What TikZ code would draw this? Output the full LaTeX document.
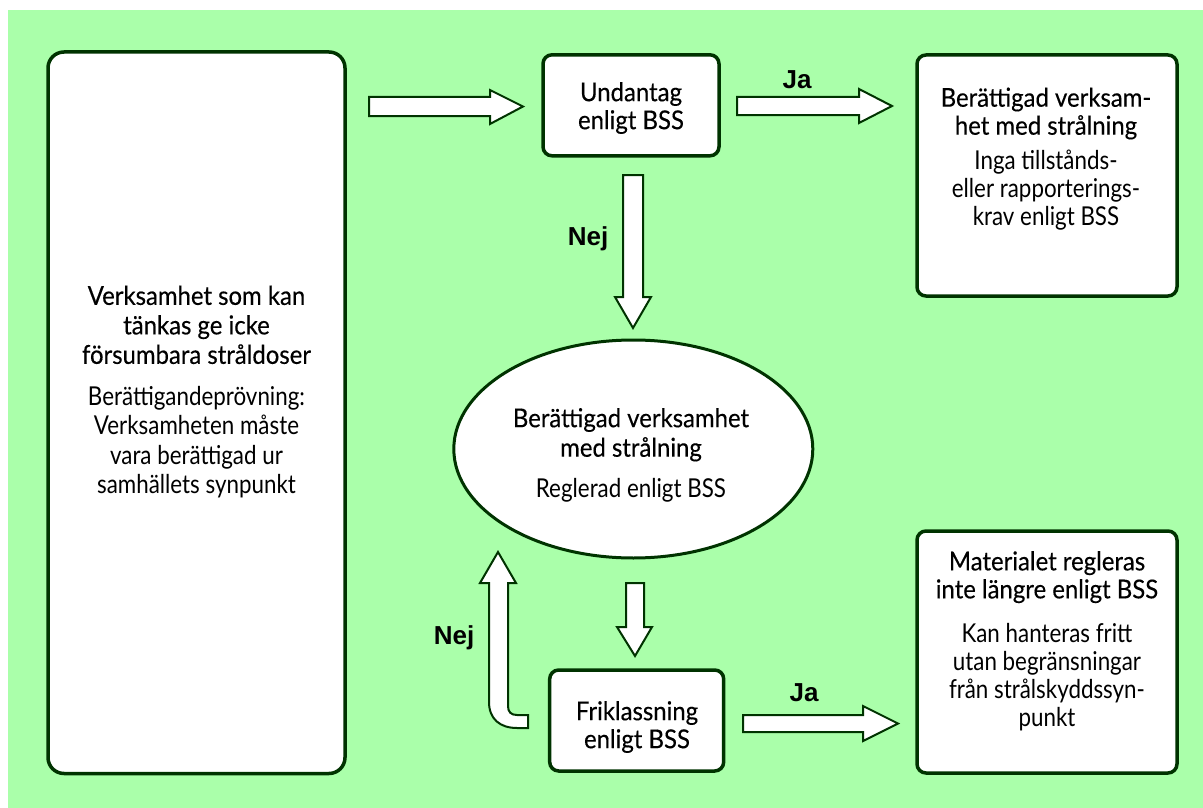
\documentclass[tikz,border=0pt]{standalone}
\usepackage{fontspec}
\setmainfont{Lato}
\newfontfamily\headfont[FakeStretch=0.92,FakeBold=0.3]{Lato}
\newfontfamily\bodyfont[FakeStretch=0.86]{Lato}
\newfontfamily\labfont{Liberation Sans}
\usetikzlibrary{shapes.geometric}
\definecolor{bggreen}{RGB}{170,255,170}
\definecolor{edge}{RGB}{0,51,0}
\tikzset{
  box/.style={draw=edge, line width=3.5pt, fill=white, inner sep=0pt},
  oval/.style={ellipse, draw=edge, line width=3pt, fill=white, inner sep=0pt},
  txt/.style={align=center, inner sep=0pt, font=\headfont\fontsize{26}{28}\selectfont},
  txtwide/.style={align=center, inner sep=0pt, font=\headfont\fontsize{26}{29.5}\selectfont},
  lab/.style={inner sep=0pt, font=\labfont\bfseries\fontsize{26}{28}\selectfont},
  barrow/.style={draw=edge, line width=2pt, fill=white, line join=miter}
}
\begin{document}
\begin{tikzpicture}[x=1pt,y=-1pt]
\useasboundingbox (0,0) rectangle (1203,808);
\fill[bggreen] (8,10) rectangle (1203,808);

% boxes
\node[box, rounded corners=16pt, minimum width=297pt, minimum height=721.5pt] (left) at (196.5,412.75) {};
\node[box, rounded corners=9pt, minimum width=176pt, minimum height=101pt] (und) at (631,105.3) {};
\node[box, rounded corners=9pt, minimum width=260pt, minimum height=241pt] (tr) at (1047,175.5) {};
\node[box, rounded corners=9pt, minimum width=260pt, minimum height=242pt] (br) at (1047,652) {};
\node[box, rounded corners=9pt, minimum width=174pt, minimum height=101pt] (fri) at (636.7,720.5) {};
\node[oval, minimum width=359pt, minimum height=218pt] (ell) at (633.3,449) {};

% texts
\node[txtwide] (leftT) at (196.5,392) {Verksamhet som kan\\ tänkas ge icke\\ försumbara stråldoser\\[12pt]
  \bodyfont Berättigandeprövning:\\ \bodyfont Verksamheten måste\\ \bodyfont vara berättigad ur\\ \bodyfont samhällets synpunkt};
\node[txt] (undT) at (631,108) {Undantag\\ enligt BSS};
\node[txt] (trT) at (1046,159) {Berättigad verksam-\\ het med strålning\\[7pt]
  \bodyfont Inga tillstånds-\\ \bodyfont eller rapporterings-\\ \bodyfont krav enligt BSS};
\node[txt] (brT) at (1047,641) {Materialet regleras\\ inte längre enligt BSS\\[16pt]
  \bodyfont Kan hanteras fritt\\ \bodyfont utan begränsningar\\ \bodyfont från strålskyddssyn-\\ \bodyfont punkt};
\node[txtwide] (ellT) at (631,455) {Berättigad verksamhet\\ med strålning\\[11pt] \bodyfont Reglerad enligt BSS};
\node[txt] (friT) at (637,727) {Friklassning\\ enligt BSS};

% block arrows
\draw[barrow] (369,97) -- (490,97) -- (490,90) -- (523,106.5) -- (490,124) -- (490,116) -- (369,116) -- cycle;
\draw[barrow] (737,97) -- (859,97) -- (859,89) -- (892,106) -- (859,123) -- (859,115) -- (737,115) -- cycle;
\draw[barrow] (623,175) -- (643,175) -- (643,297) -- (651,297) -- (633,328) -- (615,297) -- (623,297) -- cycle;
\draw[barrow] (626,583) -- (644,583) -- (644,627) -- (652,627) -- (635,656) -- (617,627) -- (626,627) -- cycle;
\draw[barrow] (528,715) -- (517,715) .. controls (511,715) and (508,712) .. (508,706) -- (508,583) -- (516,583)
  -- (498,552) -- (480,583) -- (489,583) -- (489,702) .. controls (489,719) and (500,728) .. (517,728) -- (528,728) -- cycle;
\draw[barrow] (743,715) -- (863,715) -- (863,706) -- (898,723.5) -- (863,741) -- (863,732) -- (743,732) -- cycle;

% labels
\node[lab] (ja1) at (797,80) {Ja};
\node[lab] (nej1) at (588,239) {Nej};
\node[lab] (nej2) at (454,638) {Nej};
\node[lab] (ja2) at (804,693) {Ja};
\end{tikzpicture}
\end{document}
